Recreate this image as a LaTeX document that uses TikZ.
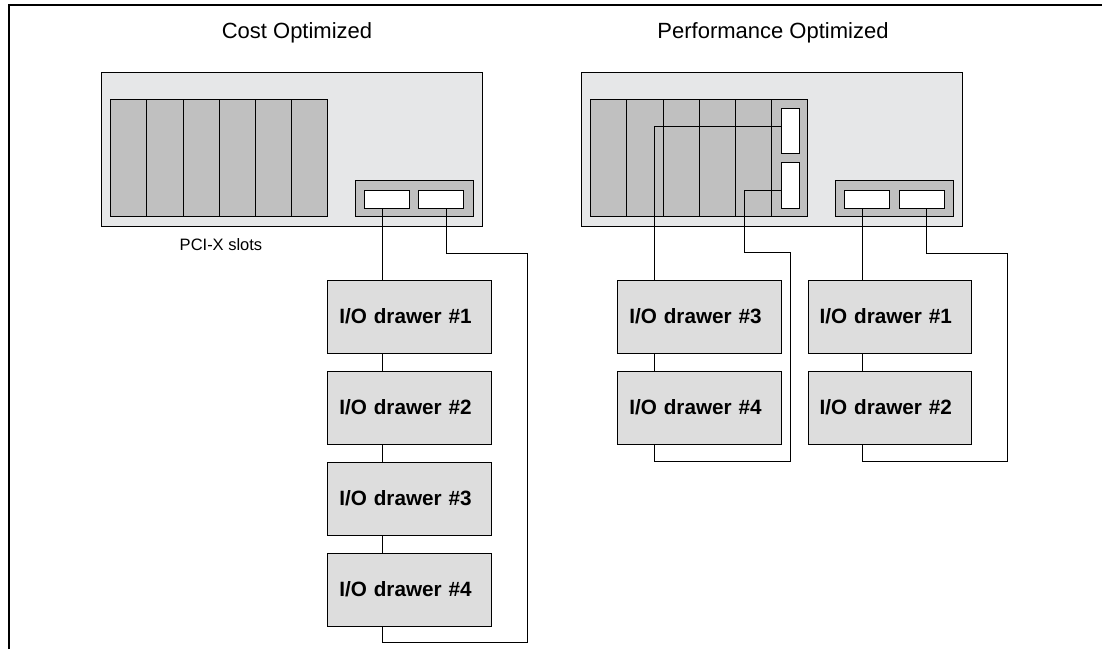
\documentclass[tikz,border=0pt]{standalone}
\usepackage{fontspec}
\setmainfont{Liberation Sans}
\usetikzlibrary{positioning}
\definecolor{chassisgray}{RGB}{230,231,232}
\definecolor{slotgray}{RGB}{192,192,192}
\definecolor{drawergray}{RGB}{221,221,221}
\tikzset{
  chassis/.style={draw, line width=0.9pt, fill=chassisgray, minimum width=380.3pt, minimum height=154pt, inner sep=0pt},
  slot/.style={draw, line width=0.9pt, fill=slotgray, minimum width=36.17pt, minimum height=117.4pt, inner sep=0pt},
  panel/.style={draw, line width=0.9pt, fill=slotgray, minimum width=118pt, minimum height=36pt, inner sep=0pt},
  port/.style={draw, line width=0.9pt, fill=white, minimum width=45.3pt, minimum height=18.3pt, inner sep=0pt},
  vport/.style={port, minimum width=18.3pt, minimum height=45.4pt},
  drawer/.style={draw, line width=0.9pt, fill=drawergray, minimum height=73pt, text width=140.4pt, inner xsep=11.6pt, inner ysep=0pt, align=left, font=\fontsize{20.7}{24}\selectfont\bfseries},
  cable/.style={line width=0.9pt},
  title/.style={font=\fontsize{22}{26}\selectfont}
}
\begin{document}
\begin{tikzpicture}[x=1pt, y=-1pt]
\useasboundingbox (0,0) rectangle (1102,649);
\draw[line width=1.3pt] (9,649) -- (9,5) -- (1102,5);

\node[title] (costtitle) at (297,33) {Cost Optimized};
\node[chassis] (lbox) at (291.85,149) {};
\foreach \i in {1,...,6}
  \node[slot] (ls\i) at ({128.8+36.17*(\i-1)},158) {};
\node[panel] (lpanel) at (414,198.7) {};
\node[port] (lp1) at (386.7,199.2) {};
\node[port] (lp2) at (441.2,199.2) {};
\node[font=\fontsize{16.5}{20}\selectfont] (pcix) at (221,245) {PCI-X slots};
\node[drawer] (ld1) at (409.5,316.5) {I/O drawer \#1};
\node[drawer] (ld2) at (409.5,407.5) {I/O drawer \#2};
\node[drawer] (ld3) at (409.5,498.5) {I/O drawer \#3};
\node[drawer] (ld4) at (409.5,589.5) {I/O drawer \#4};
\coordinate (lbus) at ([xshift=-4pt]lp1.south);
\coordinate (lturn) at (527,642.7);
\draw[cable] (lbus) -- (lbus |- ld1.north);
\foreach \i/\j in {1/2,2/3,3/4}
  \draw[cable] (lbus |- ld\i.south) -- (lbus |- ld\j.north);
\draw[cable] ([xshift=4.8pt]lp2.south) -- ++(0,44.4) -| (lturn) -| (lbus |- ld4.south);

\node[title] (perftitle) at (773,33) {Performance Optimized};
\node[chassis] (rbox) at (772,149) {};
\foreach \i in {1,...,6}
  \node[slot] (rs\i) at ({608.8+36.17*(\i-1)},158) {};
\node[vport] (rv1) at (790.2,131) {};
\node[vport] (rv2) at (790.2,185.5) {};
\node[panel] (rpanel) at (894.4,198.7) {};
\node[port] (rp1) at (867.2,199.2) {};
\node[port] (rp2) at (921.7,199.2) {};
\node[drawer] (rd3) at (699.5,316.5) {I/O drawer \#3};
\node[drawer] (rd4) at (699.5,407.5) {I/O drawer \#4};
\node[drawer] (rd1) at (889.8,316.5) {I/O drawer \#1};
\node[drawer] (rd2) at (889.8,407.5) {I/O drawer \#2};
\coordinate (rbusA) at (654.2,126.7);
\coordinate (rbendA) at (744.3,252.7);
\coordinate (rturnA) at (790,461.7);
\coordinate (rbusB) at ([xshift=-4.5pt]rp1.south);
\coordinate (rturnB) at (1007.3,461.7);
\draw[cable] ([yshift=4.3pt]rv1.west) -| (rbusA |- rd3.north);
\draw[cable] (rbusA |- rd3.south) -- (rbusA |- rd4.north);
\draw[cable] ([yshift=-4.5pt]rv2.west) -| (rbendA) -| (rturnA) -| (rbusA |- rd4.south);
\draw[cable] (rbusB) -- (rbusB |- rd1.north);
\draw[cable] (rbusB |- rd1.south) -- (rbusB |- rd2.north);
\draw[cable] ([xshift=4.3pt]rp2.south) -- ++(0,44.4) -| (rturnB) -| (rbusB |- rd2.south);
\end{tikzpicture}
\end{document}
